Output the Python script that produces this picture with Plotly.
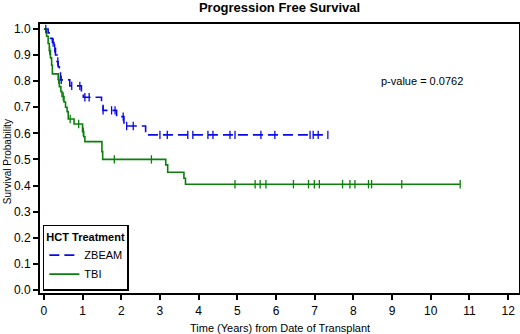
import numpy as np
import plotly.graph_objects as go

# ZBEAM (Kaplan-Meier step function)
zbeam_time = [0, 0.11, 0.17, 0.22, 0.26, 0.30, 0.34, 0.37, 0.40, 0.43, 0.67, 0.97, 1.02, 1.49, 1.53, 1.88, 2.07, 2.63, 7.34]
zbeam_surv = [1.0, 0.985, 0.964, 0.948, 0.926, 0.90, 0.875, 0.855, 0.836, 0.805, 0.782, 0.76, 0.738, 0.71, 0.688, 0.664, 0.628, 0.594, 0.594]
zbeam_censor = [0.05, 0.24, 0.28, 0.36, 0.45, 0.72, 0.93, 1.06, 1.17, 1.53, 1.75, 1.84, 2.05, 2.14, 2.31,
                3.00, 3.19, 3.72, 3.85, 4.24, 4.37, 4.81, 4.94, 5.61, 5.97, 6.88, 6.96, 7.09, 7.34]

# TBI
tbi_time = [0, 0.07, 0.11, 0.14, 0.17, 0.20, 0.22, 0.37, 0.40, 0.44, 0.47, 0.52, 0.56, 0.60, 0.63, 0.78, 1.00, 1.03, 1.06, 1.50, 1.52, 3.15, 3.20, 3.62, 3.66, 10.76]
tbi_surv = [1.0, 0.972, 0.944, 0.917, 0.889, 0.861, 0.828, 0.806, 0.779, 0.76, 0.741, 0.72, 0.70, 0.683, 0.655, 0.636, 0.606, 0.587, 0.568, 0.53, 0.50, 0.479, 0.451, 0.428, 0.405, 0.405]
tbi_censor = [0.15, 0.38, 0.50, 0.68, 0.90, 1.02, 1.82, 2.78, 4.94, 5.46, 5.59, 5.74, 6.45, 6.84, 6.99, 7.12,
              7.72, 7.91, 8.04, 8.39, 8.47, 9.25, 10.76]

x_ticks = list(range(0, 13))
y_ticks = [round(i * 0.1, 1) for i in range(11)]

BLUE = "#0a0ae6"
GREEN = "#0a800a"
FONT = "Liberation Sans, Arial"


def step_value(times, surv, t):
    idx = np.searchsorted(np.array(times), t, side="right") - 1
    return surv[max(idx, 0)]


fig = go.Figure()
fig.add_trace(go.Scatter(x=zbeam_time, y=zbeam_surv, mode="lines", line_shape="hv",
                         line=dict(color=BLUE, width=1.6, dash="10px,5px"), name="ZBEAM"))
fig.add_trace(go.Scatter(x=tbi_time, y=tbi_surv, mode="lines", line_shape="hv",
                         line=dict(color=GREEN, width=1.6), name="TBI"))
fig.add_trace(go.Scatter(x=zbeam_censor, y=[step_value(zbeam_time, zbeam_surv, t) for t in zbeam_censor],
                         mode="markers", marker=dict(symbol="line-ns", size=6, line=dict(color=BLUE, width=1.3)),
                         showlegend=False, hoverinfo="skip"))
fig.add_trace(go.Scatter(x=tbi_censor, y=[step_value(tbi_time, tbi_surv, t) for t in tbi_censor],
                         mode="markers", marker=dict(symbol="line-ns", size=6, line=dict(color=GREEN, width=1.3)),
                         showlegend=False, hoverinfo="skip"))

fig.add_annotation(x=9.77, y=0.80, text="p-value = 0.0762", showarrow=False,
                   font=dict(family=FONT, size=11, color="black"))
fig.add_annotation(xref="paper", yref="paper", x=0.5, y=-0.13, yanchor="middle",
                   text="Time (Years) from Date of Transplant", showarrow=False,
                   font=dict(family=FONT, size=11, color="black"))
fig.add_annotation(xref="paper", yref="paper", x=-0.069, y=0.49, xanchor="center", yanchor="middle",
                   textangle=-90, text="Survival Probability", showarrow=False,
                   font=dict(family=FONT, size=10, color="black"))

axis_common = dict(showline=True, linecolor="black", linewidth=2, mirror=True, showgrid=False,
                   zeroline=False, ticks="outside", ticklen=5, tickwidth=1.5, tickcolor="black",
                   automargin=False,
                   tickfont=dict(family=FONT, size=12, color="black"))

fig.update_layout(
    width=520, height=334,
    margin=dict(l=40, r=1, t=24, b=41),
    paper_bgcolor="white", plot_bgcolor="white",
    title=dict(text="<b>Progression Free Survival</b>", x=0.5, xanchor="center",
               xref="paper", y=0.979, yanchor="middle",
               font=dict(family=FONT, size=13, color="black")),
    xaxis=dict(range=[-0.1, 12.28], tickvals=x_ticks, ticklabelstandoff=1, **axis_common),
    yaxis=dict(range=[-0.012, 1.019], tickvals=y_ticks, tickformat=".1f", **axis_common),
    legend=dict(x=0.006, y=0.008, xanchor="left", yanchor="bottom",
                bordercolor="black", borderwidth=1.5, bgcolor="white",
                title=dict(text="<b>HCT Treatment</b>", side="top",
                           font=dict(family=FONT, size=11, color="black")),
                font=dict(family=FONT, size=11, color="black"),
                itemwidth=30, tracegroupgap=0),
    showlegend=True,
)

fig.write_html("out.html", config={"displayModeBar": False},
               post_script="document.body.style.margin='0';document.body.style.padding='0';")
